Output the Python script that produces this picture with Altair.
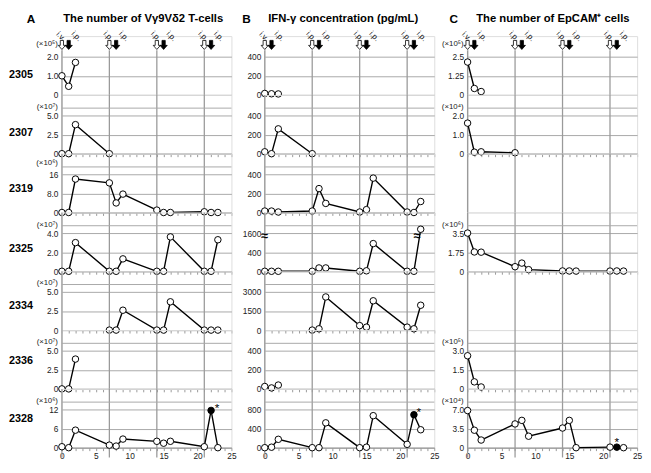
import altair as alt
import pandas as pd

# ---------------- data ----------------
PATIENTS = ["2305", "2307", "2319", "2325", "2334", "2336", "2328"]
DAYS_SHORT = [0, 1, 2]
DAYS_FOUR = [0, 1, 2, 7]
DAYS_FULL = [0, 1, 2, 7, 8, 9, 14, 15, 16, 21, 22, 23]
DAYS_LATE = [7, 8, 9, 14, 15, 16, 21, 22, 23]
GRID_DAYS = [0, 7, 14, 21]
ARROW_DAYS = [0, 1, 7, 8, 14, 15, 21, 22]
ARROW_SOLID = [0, 1, 0, 1, 0, 1, 0, 1]
ARROW_TEXT = ["i.v.", "i.p.", "i.p.", "i.p.", "i.p.", "i.p.", "i.p.", "i.p."]
STAR_DAY = 22

# Column A: number of Vγ9Vδ2 T-cells
A_2305 = [1.0, 0.45, 1.7]
A_2307 = [0, 0, 3.8, 0]
A_2319 = [0, 0, 14.0, 12.4, 4.0, 7.7, 1.0, 0, 0, 0.3, 0, 0]
A_2325 = [0, 0, 3.0, 0, 0, 1.3, 0, 0, 3.6, 0, 0, 3.3]
A_2334 = [0, 0, 2.6, 0, 0, 3.7, 0, 0, 0]
A_2336 = [0, 0, 3.9]
A_2328 = [0.3, 0, 5.5, 0.8, 0.5, 2.7, 2.0, 1.4, 2.0, 0.3, 11.7, 0]
A_TICKS = [["0", "1.0", "2.0"], ["0", "2.5", "5.0"], ["0", "8.0", "16"], ["0", "2.0", "4.0"],
           ["0", "2.5", "5.0"], ["0", "2.5", "5.0"], ["0", "6", "12"]]
A_EXP = ["(×10⁵)", "(×10⁷)", "(×10⁶)", "(×10⁷)", "(×10⁷)", "(×10⁷)", "(×10⁶)"]

# Column B: IFN-γ concentration (pg/mL)
B_2305 = [15, 12, 10]
B_2307 = [20, 0, 260, 0]
B_2319 = [15, 15, 5, 15, 250, 95, 5, 30, 360, 5, 0, 115]
B_2325 = [0, 0, 0, 0, 70, 70, 0, 10, 580, 0, 0, 1800]
B_2334 = [0, 100, 2600, 350, 230, 2300, 230, 100, 1950]
B_2336 = [25, 10, 40]
B_2328 = [0, 10, 175, 0, 0, 520, 0, 10, 670, 70, 690, 375]
B_TICKS = [["0", "200", "400"], ["0", "200", "400"], ["0", "200", "400"], ["0", "400", "1600"],
           ["0", "1500", "3000"], ["0", "200", "400"], ["0", "400", "800"]]
B_TOPS = [400, 400, 400, 800, 3000, 400, 800]

# Column C: number of EpCAM+ cells
C_2305 = [2.15, 0.42, 0.22]
C_2307 = [1.6, 0.08, 0.1, 0.05]
C_2325 = [3.5, 1.77, 1.75, 0.42, 0.75, 0.15, 0.03, 0.03, 0.02, 0.02, 0.03, 0.02]
C_2336 = [2.6, 0.55, 0.15]
C_2328 = [6.8, 3.2, 1.4, 4.35, 5.0, 2.1, 3.6, 5.0, 0, 0.1, 0.1, 0]
C_TICKS = [["0", "1.25", "2.5"], ["0", "1.0", "2.0"], None, ["0", "1.75", "3.5"],
           None, ["0", "1.5", "3.0"], ["0", "3.5", "7.0"]]
C_EXP = ["(×10⁵)", "(×10⁴)", "", "(×10⁶)", "", "(×10⁵)", "(×10⁴)"]

TITLES = ["The number of Vγ9Vδ2 T-cells", "IFN-γ concentration (pg/mL)", "The number of EpCAM⁺ cells"]
LETTERS = ["A", "B", "C"]

# ---------------- layout constants ----------------
W = 173
H = 60
GRID_PX = 39
BORDER_PX = 46.5
FONT = "Liberation Sans"
GRID = "#a8a8a8"
VGRID = "#9a9a9a"
AXC = "#999999"
ARROW = "M-0.36,-1 L0.36,-1 L0.36,0.1 L0.8,0.1 L0,1 L-0.8,0.1 L-0.36,0.1 Z"
ROW_LABEL_Y = [40, 38.5, 36.5, 37.5, 35, 32, 31]
EXP_Y = [8.5, 12, 10, 12.5, 12.5, 12.5, 12]
LETTER_X = [-31.5, -18.5, -14]
TITLE_X = [83, 80, 87]

xs = alt.Scale(domain=[0, 25], nice=False, zero=False)
one = pd.DataFrame({"k": [0]})


def x_axis(last):
    return alt.Axis(values=list(range(26)), title=None, grid=False, domainColor=AXC,
                    tickColor=AXC, tickSize=3, labels=last,
                    labelExpr="datum.value % 5 === 0 ? datum.label : ''",
                    labelFontSize=8.5, labelPadding=1, labelFlush=False, labelColor="#222",
                    labelFont=FONT)


def rules_layer(r, axis_on=True):
    first, last = r == 0, r == 6
    return alt.Chart(pd.DataFrame({"day": GRID_DAYS})).mark_rule(
        color=VGRID, strokeWidth=1.3).encode(
        x=alt.X("day:Q", scale=xs, axis=x_axis(last) if axis_on else None),
        y=alt.value(H - BORDER_PX + 1 if first else 0),
        y2=alt.value(H + 10 if last else H))


def header_layers(c):
    layers = []
    adf = pd.DataFrame({"day": ARROW_DAYS, "solid": ARROW_SOLID, "txt": ARROW_TEXT})
    fill = alt.condition("datum.solid == 1", alt.value("black"), alt.value("white"))
    layers.append(alt.Chart(adf).mark_point(shape=ARROW, size=85, filled=True, stroke="black",
                                            strokeWidth=0.8, opacity=1).encode(
        x=alt.X("day:Q", scale=xs, axis=None), y=alt.value(9), fill=fill))
    layers.append(alt.Chart(adf).transform_calculate(
        pos="datum.solid == 1 ? datum.day + 1.1 : datum.day - 0.2").mark_text(
        angle=45, fontSize=8, font=FONT, color="#111").encode(
        x=alt.X("pos:Q", scale=xs, axis=None), y=alt.value(0.5), text="txt:N"))
    layers.append(alt.Chart(one).mark_text(fontSize=12, fontWeight="bold", font=FONT,
                                           align="center", baseline="middle").encode(
        x=alt.value(LETTER_X[c]), y=alt.value(-17.5), text=alt.value(LETTERS[c])))
    layers.append(alt.Chart(one).mark_text(fontSize=11.5, fontWeight="bold", font=FONT,
                                           align="center", baseline="middle").encode(
        x=alt.value(TITLE_X[c]), y=alt.value(-17.5), text=alt.value(TITLES[c])))
    return layers


def panel(c, r, days, vals, ticks, top, exp_label, broken=False):
    first, last = r == 0, r == 6
    layers = [rules_layer(r)]
    if days is not None:
        ymax = top * H / GRID_PX
        ys = alt.Scale(domain=[0, ymax], nice=False, zero=False)
        tick_vals = [0, top / 2, top]
        lbl = (f"[{', '.join(repr(t) for t in ticks)}]"
               f"[indexof([{', '.join(str(v) for v in tick_vals)}], datum.value)]")
        lbl = lbl.replace('"', "'")
        y_axis = alt.Axis(values=tick_vals, title=None, grid=True, gridColor=GRID,
                          gridWidth=1, ticks=False, domain=False, labelExpr=lbl,
                          labelOverlap=False, labelBound=False,
                          labelFontSize=8.5, labelPadding=4, labelColor="#222", labelFont=FONT)
        df = pd.DataFrame({"day": days, "val": vals})
        df["solid"] = [1 if (r == 6 and d == STAR_DAY) else 0 for d in days]
        expr = "datum.val > 1000 ? 800 + (datum.val - 1600) * 0.4 : datum.val" if broken else "datum.val"
        base = alt.Chart(df).transform_calculate(disp=expr)
        X = alt.X("day:Q", scale=xs, axis=x_axis(last))
        Y = alt.Y("disp:Q", scale=ys, axis=y_axis)
        if not first:
            layers.append(alt.Chart(one).mark_rule(color=GRID, strokeWidth=1).encode(
                x=alt.value(0), x2=alt.value(W), y=alt.value(H - BORDER_PX)))
        layers.append(base.mark_line(color="black", strokeWidth=1.4).encode(x=X, y=Y))
        layers.append(base.mark_point(filled=True, size=44, stroke="black", strokeWidth=1,
                                      opacity=1).encode(
            x=X, y=Y, fill=alt.condition("datum.solid == 1", alt.value("black"), alt.value("white"))))
        if last:
            layers.append(base.transform_filter("datum.solid == 1").mark_text(
                text="*", fontSize=12, font=FONT, dx=[6, 5, 0][c], dy=[-2, -3, -5][c]).encode(x=X, y=Y))
        if broken:
            bdf = pd.DataFrame({"day": [0, 22.5], "t": ["≈", "≈"]})
            layers.append(alt.Chart(bdf).mark_text(fontSize=13, fontWeight="bold", font=FONT,
                                                   baseline="middle").encode(
                x=alt.X("day:Q", scale=xs, axis=None),
                y=alt.value(H - GRID_PX + 3), text="t:N"))
        if exp_label:
            layers.append(alt.Chart(one).mark_text(align="right", baseline="middle", fontSize=8,
                                                   font=FONT, color="#222").encode(
                x=alt.value(-4), y=alt.value(EXP_Y[r]), text=alt.value(exp_label)))
    else:
        layers = [rules_layer(r, axis_on=False)]
    if c == 0:
        layers.append(alt.Chart(one).mark_text(align="left", baseline="middle", fontSize=11,
                                               fontWeight="bold", font=FONT).encode(
            x=alt.value(-54), y=alt.value(ROW_LABEL_Y[r]), text=alt.value(PATIENTS[r])))
    if first:
        layers += header_layers(c)
    return alt.layer(*layers).properties(width=W, height=H)


A_VALS = [A_2305, A_2307, A_2319, A_2325, A_2334, A_2336, A_2328]
B_VALS = [B_2305, B_2307, B_2319, B_2325, B_2334, B_2336, B_2328]
C_VALS = [C_2305, C_2307, None, C_2325, None, C_2336, C_2328]
DAYS = [DAYS_SHORT, DAYS_FOUR, DAYS_FULL, DAYS_FULL, DAYS_LATE, DAYS_SHORT, DAYS_FULL]

cells = []
for r in range(7):
    cells.append(panel(0, r, DAYS[r], A_VALS[r], A_TICKS[r], float(A_TICKS[r][2]), A_EXP[r]))
    cells.append(panel(1, r, DAYS[r], B_VALS[r], B_TICKS[r], B_TOPS[r], "", broken=(r == 3)))
    cells.append(panel(2, r, DAYS[r] if C_VALS[r] else None, C_VALS[r], C_TICKS[r],
                       float(C_TICKS[r][2]) if C_TICKS[r] else 1, C_EXP[r]))

chart = alt.concat(
    *cells, columns=3, spacing={"row": 0, "column": 34}, bounds="flush", padding=0,
).configure_view(stroke=None).configure(font=FONT)

chart.save("out.html", embed_options={"renderer": "svg", "actions": False})
